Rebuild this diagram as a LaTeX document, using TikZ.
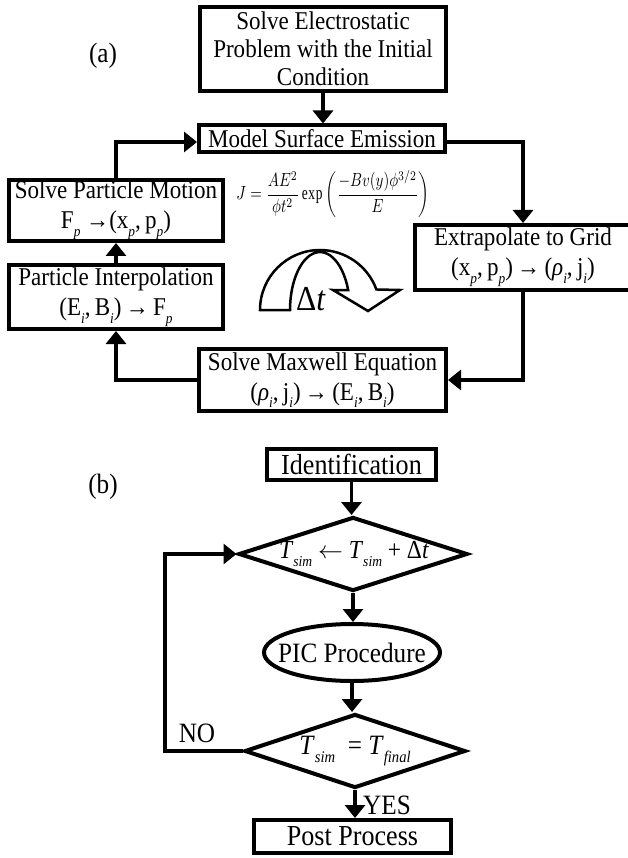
\documentclass[tikz,border=0pt]{standalone}
\usepackage{amsmath}
\usepackage{graphicx}
\usepackage{fontspec}
\setmainfont{Liberation Serif}[FakeStretch=0.9]
\usetikzlibrary{arrows.meta,shapes.geometric,calc}
\newcommand{\sbs}[1]{\raisebox{-0.3em}{\scalebox{0.58}{\itshape #1}}}
\begin{document}
\begin{tikzpicture}[x=1pt,y=-1pt,
  box/.style={draw, line width=4pt, inner sep=0pt, align=center, font=\fontsize{25.6}{28}\selectfont},
  boxb/.style={draw, line width=4pt, inner sep=0pt, align=center, font=\fontsize{29}{30}\selectfont},
  dia/.style={draw, diamond, line width=4pt, inner sep=0pt},
  ell/.style={draw, ellipse, line width=4pt, inner sep=0pt},
  lbl/.style={font=\fontsize{28}{30}\selectfont, inner sep=0pt},
  conn/.style={line width=3.5pt, line join=miter, -{Triangle[length=13pt,width=20pt]}}]
\useasboundingbox (0,0) rectangle (628,858);
% (a)
\node[lbl] (la) at (103,56) {(a)};
\node[box, minimum width=246pt, minimum height=84pt] (top) at (323,49) {Solve Electrostatic\\Problem with the Initial\\Condition};
\node[box, minimum width=246pt, minimum height=27pt] (model) at (322,139) {Model Surface Emission};
\node[box, minimum width=214pt, minimum height=61pt] (spm) at (116,210.5) {Solve Particle Motion\\[2pt]F\sbs{p} →(x\sbs{p},\,p\sbs{p})};
\node[box, minimum width=214pt, minimum height=64pt] (pi) at (116,297) {Particle Interpolation\\[2pt](E\sbs{i},\,B\sbs{i})\,→\,F\sbs{p}};
\node[box, minimum width=216pt, minimum height=65pt] (ext) at (523,257.5) {Extrapolate to Grid\\[2pt](x\sbs{p},\,p\sbs{p})\,→\,(\textit{ρ}\sbs{i},\,j\sbs{i})};
\node[box, minimum width=247pt, minimum height=62pt] (max) at (322.5,380) {Solve Maxwell Equation\\[2pt](\textit{ρ}\sbs{i},\,j\sbs{i})\,→\,(E\sbs{i},\,B\sbs{i})};
\node[inner sep=0pt] (eq) at (333,194) {\resizebox*{193pt}{48pt}{$J=\dfrac{AE^2}{\phi t^2}\exp\left(\dfrac{-Bv(y)\phi^{3/2}}{E}\right)$}};
\coordinate (mE) at ($(model.east)+(0,3)$);
\coordinate (mW) at ($(model.west)+(0,3)$);
\draw[conn] (top.south) -- (top.south |- model.north);
\draw[conn] (mE) -| (ext.north);
\draw[conn] (spm.north) |- (mW);
\draw[conn] (pi.north) -- (spm.south);
\draw[conn] (ext.south) |- (max.east);
\draw[conn] (max.west) -| (pi.south);
% curved arrow
\draw[line width=2.5pt, fill=white, line join=miter] (260,310) arc[start angle=180, end angle=340, radius=60] -- (400,290) -- (368,311) -- (333,290) -- (348.2,290.2) arc[start angle=340, end angle=180, x radius=30, y radius=58] -- cycle;
\node[font=\fontsize{35}{35}\selectfont, anchor=base, inner sep=0pt] (dt) at (311,310) {Δ\textit{t}};
% (b)
\node[lbl] (lb) at (103,487) {(b)};
\node[boxb, minimum width=169pt, minimum height=31pt] (ident) at (351.5,464.5) {Identification};
\node[dia, minimum width=229pt, minimum height=74pt] (d1) at (353,554) {};
\node[lbl, font=\fontsize{26}{30}\selectfont] (d1t) at (354,554) {\textit{T}\sbs{sim} $\leftarrow$ \textit{T}\sbs{sim} + Δ\textit{t}};
\node[ell, minimum width=176pt, minimum height=57pt] (pic) at (352,652.5) {};
\node[lbl] (pict) at (352,652.5) {PIC Procedure};
\node[dia, minimum width=221pt, minimum height=74pt] (d2) at (355,751) {};
\node[lbl] (d2t) at (355,751) {\textit{T}\sbs{sim}\ \ = \textit{T}\sbs{final}};
\node[boxb, minimum width=197pt, minimum height=33pt] (post) at (352.5,836.5) {Post Process};
\coordinate (lp) at (165,554);
\draw[conn] (ident.south) -- (ident.south |- d1.north);
\draw[conn] (d1.south) -- (d1.south |- pic.north);
\draw[conn] (pic.south) -- (pic.south |- d2.north);
\draw[conn] (d2.south) -- (d2.south |- post.north);
\draw[conn] (d2.west) -| (lp) -- (d1.west);
\node[lbl] (no) at (197,733) {NO};
\node[lbl, anchor=west] (yes) at (363,805) {YES};
\end{tikzpicture}
\end{document}
